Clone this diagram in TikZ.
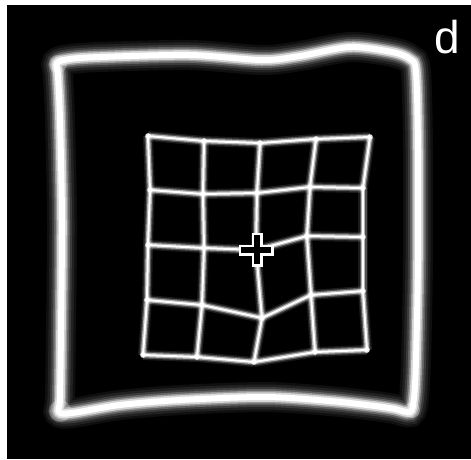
\documentclass[tikz,border=0pt]{standalone}
\usepackage{fontspec}
\newfontfamily\labelfont{Liberation Sans}

\begin{document}
\begin{tikzpicture}[
        x=1pt, y=-1pt,
        frameglow/.style = {draw=white, line width=6pt, line cap=round, line join=round,
                preaction={draw=white, opacity=0.06, line width=30pt},
                preaction={draw=white, opacity=0.08, line width=25pt},
                preaction={draw=white, opacity=0.12, line width=20pt},
                preaction={draw=white, opacity=0.2, line width=16pt},
                preaction={draw=white, opacity=0.35, line width=12.5pt},
                preaction={draw=white, opacity=0.6, line width=9.5pt}},
        gridglow/.style = {draw=white, line width=2pt, line cap=round,
                preaction={draw=white, opacity=0.1, line width=10pt},
                preaction={draw=white, opacity=0.25, line width=7pt},
                preaction={draw=white, opacity=0.55, line width=4.5pt}},
        knot/.style = {fill=white, opacity=0.9},
        blob/.style = {fill=white, opacity=0.25}
        ]
        % background and margins
        \fill[white] (0,0) rectangle (471,459);
        \fill[black] (7,5) rectangle (471,459);

        % outer frame
        \draw[frameglow] plot[smooth cycle, tension=0.5] coordinates {
                (57,63) (70,59) (100,57) (190,55) (262,60) (300,56) (350,47) (392,52)
                (410,59) (416,72) (418,150) (418,260) (416,360) (414,398) (410,412)
                (395,409) (375,406) (330,401) (265,397) (180,400) (120,405) (72,413)
                (59,412) (60,398) (61,330) (62,220) (60,120) (58,76)};
        \foreach \cx/\cy/\rad in {58/64/9, 60/411/11, 412/410/8}
                \fill[blob] (\cx,\cy) circle (\rad pt);

        % grid points
        \foreach \r/\c/\px/\py in {
                0/0/148/136, 0/1/204/141, 0/2/260/143, 0/3/316/139, 0/4/370/137,
                1/0/150/190, 1/1/203/194, 1/2/257/193, 1/3/310/187, 1/4/363/188,
                2/0/148/245, 2/1/204/248, 2/2/256/250, 2/3/307/236, 2/4/363/237,
                3/0/147/300, 3/1/202/305, 3/2/262/318, 3/3/311/295, 3/4/363/291,
                4/0/143/355, 4/1/197/357, 4/2/254/362, 4/3/315/352, 4/4/367/350}
                \coordinate (g\r\c) at (\px,\py);

        % grid lines
        \foreach \r in {0,...,4}
                \foreach \c/\n in {0/1,1/2,2/3,3/4} {
                        \draw[gridglow] (g\r\c) -- (g\r\n);
                        \draw[gridglow] (g\c\r) -- (g\n\r);
                }
        \foreach \r in {0,...,4}
                \foreach \c in {0,...,4}
                        \fill[knot] (g\r\c) circle (2.8pt);

        % centre mark
        \fill[white] (251.5,232.5) rectangle (262.5,266.5);
        \fill[white] (238.5,244.5) rectangle (273.5,255.5);
        \fill[black] (254,235) rectangle (260,264);
        \fill[black] (241,247) rectangle (271,253);

        % panel letter
        \node[text=white, font=\labelfont\fontsize{46}{46}\selectfont, anchor=base] (panel) at (447,53) {d};
\end{tikzpicture}
\end{document}
